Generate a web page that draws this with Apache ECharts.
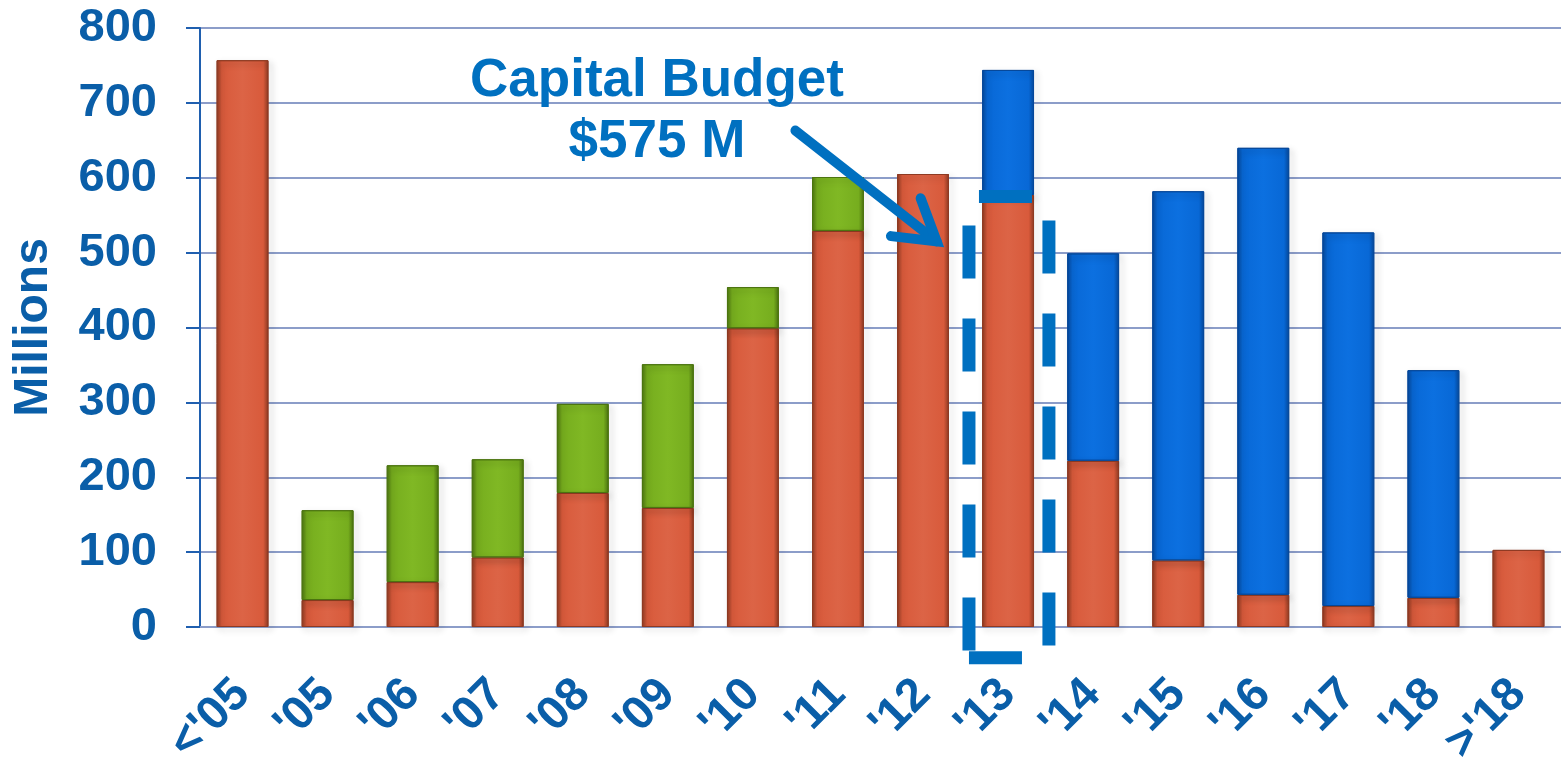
<!DOCTYPE html>
<html>
<head>
<meta charset="utf-8">
<script src="https://cdn.jsdelivr.net/npm/echarts@6/dist/echarts.min.js"></script>
<style>
  html, body { margin: 0; padding: 0; background: #fff; }
  #main { width: 1561px; height: 763px; }
</style>
</head>
<body>
<div id="main"></div>
<script>
// categories and stacked values (millions)
const years = ["<'05", "'05", "'06", "'07", "'08", "'09", "'10", "'11", "'12", "'13", "'14", "'15", "'16", "'17", "'18", ">'18"]
const orangeVals = [757, 36, 60, 93, 179, 159, 399, 529, 605, 577, 222, 89, 43, 28, 39, 103]
const greenVals = [null, 120, 156, 131, 119, 192, 55, 72, null, null, null, null, null, null, null, null]
const blueVals = [null, null, null, null, null, null, null, null, null, 167, 277, 493, 597, 499, 304, null]
const yTicks = [0, 100, 200, 300, 400, 500, 600, 700, 800]
const budget = 575

const FONT = 'Arial, "Liberation Sans", sans-serif'
const LABEL_BLUE = '#0A5EA8'
const NOTE_BLUE = '#0070C0'
const GRID_LINE = '#8C9DC9'

// horizontal gradient gives the bars their rounded, bevelled look
function shade (dark, main, light) {
  return new echarts.graphic.LinearGradient(0, 0, 1, 0, [
    { offset: 0, color: dark },
    { offset: 0.1, color: main },
    { offset: 0.5, color: light },
    { offset: 0.9, color: main },
    { offset: 1, color: dark }
  ])
}

function barSeries (name, data, dark, main, light) {
  return {
    name: name,
    type: 'bar',
    stack: 'total',
    data: data,
    barCategoryGap: '39%',
    itemStyle: {
      color: shade(dark, main, light),
      borderColor: dark,
      borderWidth: 1,
      shadowColor: 'rgba(0,0,0,0.3)',
      shadowBlur: 6,
      shadowOffsetX: 3,
      shadowOffsetY: 3
    }
  }
}

const chart = echarts.init(document.getElementById('main'))
const option = {
  animation: false,
  backgroundColor: '#fff',
  grid: { left: 200, right: 0, top: 28, bottom: 136, outerBoundsMode: 'none', containLabel: false },
  xAxis: {
    type: 'category',
    data: years,
    axisLine: { lineStyle: { color: GRID_LINE, width: 2 } },
    axisTick: { show: false },
    axisLabel: {
      interval: 0,
      hideOverlap: false,
      rotate: 45,
      margin: 60,
      color: LABEL_BLUE,
      fontFamily: FONT,
      fontWeight: 'bold',
      fontSize: 47
    }
  },
  yAxis: {
    type: 'value',
    min: 0,
    max: 800,
    interval: 100,
    name: 'Millions',
    nameLocation: 'middle',
    nameGap: 142,
    nameTextStyle: { color: LABEL_BLUE, fontFamily: FONT, fontWeight: 'bold', fontSize: 48 },
    axisLine: { show: true, lineStyle: { color: '#1F5FAF', width: 2 } },
    axisTick: { show: true, length: 14, lineStyle: { color: '#1F5FAF', width: 2 } },
    splitLine: { lineStyle: { color: GRID_LINE, width: 2 } },
    axisLabel: {
      margin: 43,
      color: LABEL_BLUE,
      fontFamily: FONT,
      fontWeight: 'bold',
      fontSize: 47,
      formatter: v => (yTicks.indexOf(v) >= 0 ? String(v) : '')
    }
  },
  series: [
    barSeries('Spent', orangeVals, '#8E3A22', '#D85A3B', '#DC6446'),
    barSeries('Committed', greenVals, '#4C7410', '#76AD1E', '#80B824'),
    barSeries('Planned', blueVals, '#06489A', '#0868D6', '#0C70E0')
  ]
}
chart.setOption(option)

// annotations: budget box around '13, arrow and label
const px = i => chart.convertToPixel({ xAxisIndex: 0 }, i)
const py = v => chart.convertToPixel({ yAxisIndex: 0 }, v)
const step = px(1) - px(0)
const i13 = years.indexOf("'13")
const boxL = px(i13) - step * 0.46
const boxR = px(i13) + step * 0.48
const boxT = py(budget)
const boxB = py(-41)

const tip = [px(8) + step * 0.16, py(515)]
const tail = [px(6) + step * 0.5, py(663)]
const ang = Math.atan2(tip[1] - tail[1], tip[0] - tail[0])
const head = 46
const arm1 = [tip[0] - head * Math.cos(ang - 0.55), tip[1] - head * Math.sin(ang - 0.55)]
const arm2 = [tip[0] - head * Math.cos(ang + 0.55), tip[1] - head * Math.sin(ang + 0.55)]

function dashLine (x1, y1, x2, y2, offset) {
  return {
    type: 'line',
    shape: { x1: x1, y1: y1, x2: x2, y2: y2 },
    style: { stroke: NOTE_BLUE, lineWidth: 13, lineDash: [53, 40], lineDashOffset: offset },
    z: 100
  }
}

chart.setOption({
  graphic: [
    dashLine(boxL, boxT, boxR, boxT, 83),
    dashLine(boxL, boxT, boxL, boxB, 64),
    dashLine(boxR, boxT, boxR, boxB, 69),
    dashLine(boxL, boxB, boxR, boxB, 0),
    {
      type: 'polyline',
      shape: { points: [tail, tip] },
      style: { stroke: NOTE_BLUE, lineWidth: 10, lineCap: 'round' },
      z: 100
    },
    {
      type: 'polyline',
      shape: { points: [arm1, tip, arm2] },
      style: { stroke: NOTE_BLUE, lineWidth: 10, lineCap: 'round', lineJoin: 'miter', fill: 'none' },
      z: 100
    },
    {
      type: 'text',
      x: 657,
      y: 81,
      style: {
        text: 'Capital Budget',
        fill: NOTE_BLUE,
        font: 'bold 53px ' + FONT,
        align: 'center',
        verticalAlign: 'middle'
      },
      z: 100
    },
    {
      type: 'text',
      x: 657,
      y: 142,
      style: {
        text: '$575 M',
        fill: NOTE_BLUE,
        font: 'bold 53px ' + FONT,
        align: 'center',
        verticalAlign: 'middle'
      },
      z: 100
    }
  ]
})
</script>
</body>
</html>
